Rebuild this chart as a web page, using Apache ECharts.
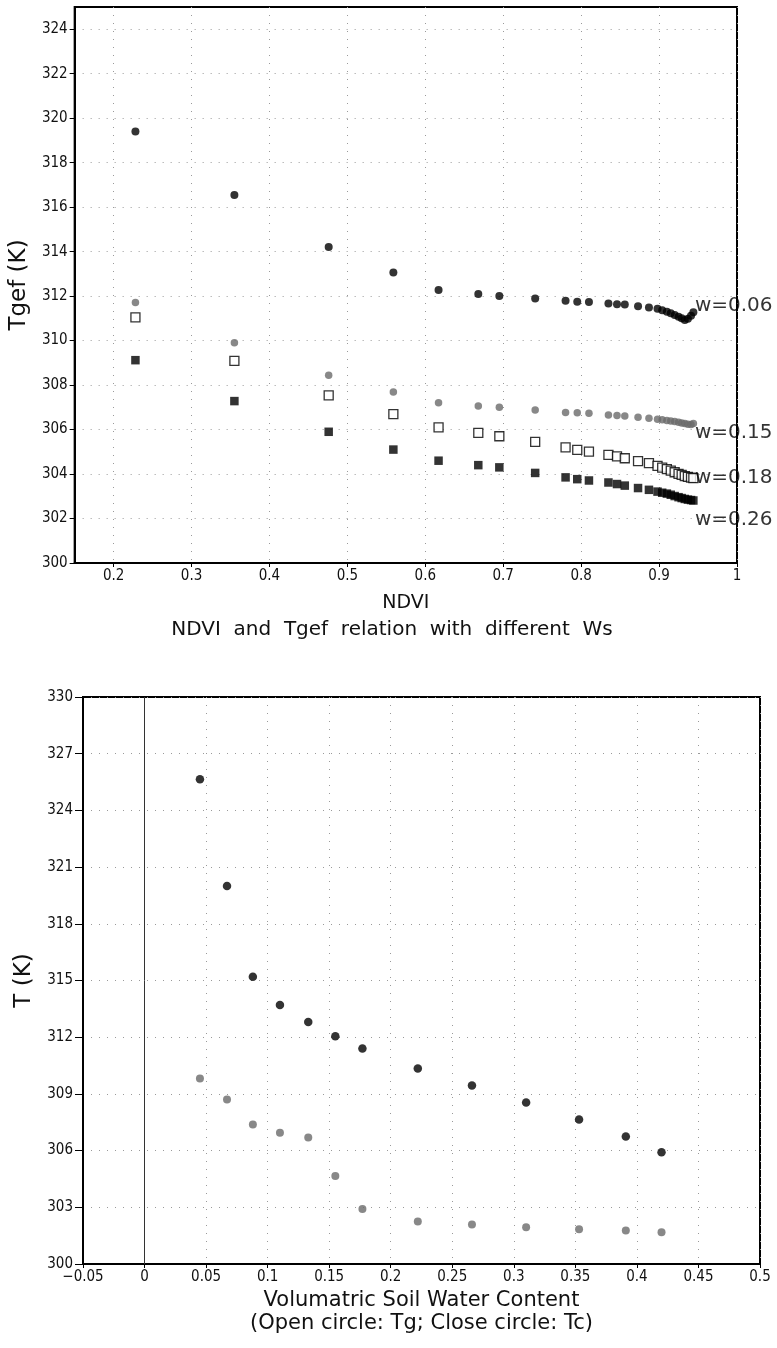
<!DOCTYPE html>
<html>
<head>
<meta charset="utf-8">
<script src="https://cdn.jsdelivr.net/npm/echarts@6/dist/echarts.min.js"></script>
<style>
html,body{margin:0;padding:0;background:#fff;}
#chart{width:777px;height:1348px;}
</style>
</head>
<body>
<div id="chart"></div>
<script>
// ---- Top chart data: NDVI vs Tgef for different soil water contents ----
const ndvi = [0.228, 0.355, 0.476, 0.559, 0.617, 0.668, 0.695, 0.741, 0.780, 0.795, 0.810, 0.835, 0.846, 0.856, 0.873, 0.887, 0.898, 0.904, 0.910, 0.915, 0.920, 0.925, 0.929, 0.933, 0.937, 0.941, 0.944];
const tgefW006 = [319.40, 316.55, 314.21, 313.06, 312.27, 312.09, 312.01, 311.89, 311.79, 311.75, 311.73, 311.67, 311.64, 311.62, 311.55, 311.49, 311.43, 311.37, 311.30, 311.23, 311.15, 311.07, 311.00, 310.93, 310.98, 311.12, 311.28];
const tgefW015 = [311.71, 309.90, 308.44, 307.69, 307.21, 307.06, 307.00, 306.88, 306.77, 306.76, 306.73, 306.66, 306.63, 306.61, 306.55, 306.51, 306.46, 306.44, 306.41, 306.39, 306.36, 306.33, 306.30, 306.27, 306.24, 306.23, 306.27];
const tgefW018 = [311.04, 309.09, 307.54, 306.69, 306.10, 305.85, 305.70, 305.45, 305.20, 305.09, 305.01, 304.86, 304.79, 304.71, 304.58, 304.49, 304.37, 304.29, 304.22, 304.15, 304.08, 304.01, 303.96, 303.91, 303.87, 303.84, 303.82];
const tgefW026 = [309.12, 307.28, 305.90, 305.10, 304.60, 304.40, 304.30, 304.05, 303.85, 303.77, 303.71, 303.62, 303.55, 303.48, 303.37, 303.29, 303.21, 303.16, 303.12, 303.07, 303.01, 302.96, 302.92, 302.88, 302.85, 302.83, 302.81];
const wLabels = ['w=0.06', 'w=0.15', 'w=0.18', 'w=0.26'];
const wLabelAnchorX = [0.946, 0.946, 0.946, 0.946];
const wLabelAnchorY = [311.55, 305.85, 303.83, 301.94];
const ndviTicks = [0.2, 0.3, 0.4, 0.5, 0.6, 0.7, 0.8, 0.9, 1];
const tgefTicks = [300, 302, 304, 306, 308, 310, 312, 314, 316, 318, 320, 322, 324];

// ---- Bottom chart data: soil water content vs temperatures ----
const swc = [0.045, 0.067, 0.088, 0.110, 0.133, 0.155, 0.177, 0.222, 0.266, 0.310, 0.353, 0.391, 0.420];
const tcClose = [325.65, 320.00, 315.20, 313.70, 312.80, 312.05, 311.40, 310.35, 309.44, 308.54, 307.65, 306.74, 305.91];
const tgOpen = [309.82, 308.70, 307.38, 306.94, 306.69, 304.65, 302.91, 302.25, 302.09, 301.95, 301.84, 301.77, 301.68];

const zip = (xs, ys) => xs.map((x, i) => [x, ys[i]]);

const GRID_DOT = { color: '#9a9a9a', width: 1, type: [1, 7] };
const TICK_FONT = { fontFamily: 'Liberation Sans Narrow, DejaVu Sans Condensed, Liberation Sans, sans-serif', fontSize: 15, color: '#111' };
const NAME_FONT = { fontFamily: 'DejaVu Sans, sans-serif', fontSize: 21, color: '#111' };
const GRAY = '#6a6a6a';

const chart = echarts.init(document.getElementById('chart'), null, { renderer: 'canvas' });

const option = {
  backgroundColor: '#fff',
  animation: false,
  title: [{
    text: 'NDVI  and  Tgef  relation  with  different  Ws',
    left: 387, top: 615, textAlign: 'center',
    textStyle: Object.assign({}, NAME_FONT, { fontWeight: 'normal', fontSize: 20 })
  }],
  grid: [
    { left: 74, right: 40, top: 7, height: 556, show: true, borderColor: '#000', borderWidth: 2, backgroundColor: 'transparent' },
    { left: 83, right: 17, top: 697, height: 567, show: true, borderColor: '#000', borderWidth: 2, backgroundColor: 'transparent' }
  ],
  xAxis: [
    {
      gridIndex: 0, type: 'value', min: 0.15, max: 1,
      name: 'NDVI', nameLocation: 'middle', nameGap: 31,
      nameTextStyle: Object.assign({}, NAME_FONT, { fontSize: 19 }),
      axisLine: { show: true, onZero: false, lineStyle: { color: '#000', width: 2 } },
      axisTick: { show: true, length: 4, customValues: ndviTicks, lineStyle: { color: '#000' } },
      axisLabel: Object.assign({ customValues: ndviTicks, margin: 6, formatter: v => String(+v.toFixed(2)) }, TICK_FONT),
      splitLine: { show: true, lineStyle: GRID_DOT }
    },
    {
      gridIndex: 1, type: 'value', min: -0.05, max: 0.5, interval: 0.05,
      name: 'Volumatric Soil Water Content\n(Open circle: Tg; Close circle: Tc)',
      nameLocation: 'middle', nameGap: 25,
      nameTextStyle: Object.assign({}, NAME_FONT, { lineHeight: 23 }),
      axisLine: { show: true, onZero: false, lineStyle: { color: '#000', width: 2 } },
      axisTick: { show: true, length: 4, lineStyle: { color: '#000' } },
      axisLabel: Object.assign({ margin: 6, showMinLabel: true, showMaxLabel: true, formatter: v => (Math.abs(v) < 1e-9 ? '0' : String(+v.toFixed(2)).replace('-', '\u2212')) }, TICK_FONT),
      splitLine: { show: true, lineStyle: GRID_DOT }
    }
  ],
  yAxis: [
    {
      gridIndex: 0, type: 'value', min: 300, max: 325,
      name: 'Tgef (K)', nameLocation: 'middle', nameGap: 38,
      nameTextStyle: Object.assign({}, NAME_FONT, { fontSize: 23 }),
      axisLine: { show: true, onZero: false, lineStyle: { color: '#000', width: 2 } },
      axisTick: { show: true, length: 5, customValues: tgefTicks, lineStyle: { color: '#000' } },
      axisLabel: Object.assign({ customValues: tgefTicks, margin: 7 }, TICK_FONT),
      splitLine: { show: true, lineStyle: GRID_DOT }
    },
    {
      gridIndex: 1, type: 'value', min: 300, max: 330, interval: 3,
      name: 'T (K)', nameLocation: 'middle', nameGap: 47,
      nameTextStyle: Object.assign({}, NAME_FONT, { fontSize: 23 }),
      axisLine: { show: true, onZero: false, lineStyle: { color: '#000', width: 2 } },
      axisTick: { show: true, length: 8, lineStyle: { color: '#000' } },
      axisLabel: Object.assign({ margin: 10 }, TICK_FONT),
      splitLine: { show: true, lineStyle: GRID_DOT }
    }
  ],
  series: [
    { name: 'w=0.06', type: 'scatter', xAxisIndex: 0, yAxisIndex: 0, symbol: 'circle', symbolSize: 8,
      itemStyle: { color: '#000' }, data: zip(ndvi, tgefW006) },
    { name: 'w=0.15', type: 'scatter', xAxisIndex: 0, yAxisIndex: 0, symbol: 'circle', symbolSize: 7.5,
      itemStyle: { color: GRAY }, data: zip(ndvi, tgefW015) },
    { name: 'w=0.18', type: 'scatter', xAxisIndex: 0, yAxisIndex: 0, symbol: 'rect', symbolSize: 9,
      itemStyle: { color: '#fff', borderColor: '#000', borderWidth: 1.3 }, data: zip(ndvi, tgefW018) },
    { name: 'w=0.26', type: 'scatter', xAxisIndex: 0, yAxisIndex: 0, symbol: 'rect', symbolSize: 8.5,
      itemStyle: { color: '#000' }, data: zip(ndvi, tgefW026) },
    { name: 'labels', type: 'scatter', xAxisIndex: 0, yAxisIndex: 0, symbolSize: 0, silent: true, z: 10,
      data: wLabels.map((t, i) => ({ value: [wLabelAnchorX[i], wLabelAnchorY[i]], name: t })),
      label: { show: true, position: 'right', distance: 0, formatter: p => p.name,
               fontFamily: 'DejaVu Sans, sans-serif', fontSize: 20, color: '#000' } },
    { name: 'Tc', type: 'scatter', xAxisIndex: 1, yAxisIndex: 1, symbol: 'circle', symbolSize: 8.5,
      itemStyle: { color: '#000' }, data: zip(swc, tcClose),
      markLine: { silent: true, symbol: 'none', label: { show: false },
                  lineStyle: { color: '#333', width: 1, type: 'solid' }, data: [{ xAxis: 0 }] } },
    { name: 'Tg', type: 'scatter', xAxisIndex: 1, yAxisIndex: 1, symbol: 'circle', symbolSize: 8,
      itemStyle: { color: GRAY }, data: zip(swc, tgOpen) }
  ]
};
chart.setOption(option);
</script>
</body>
</html>
